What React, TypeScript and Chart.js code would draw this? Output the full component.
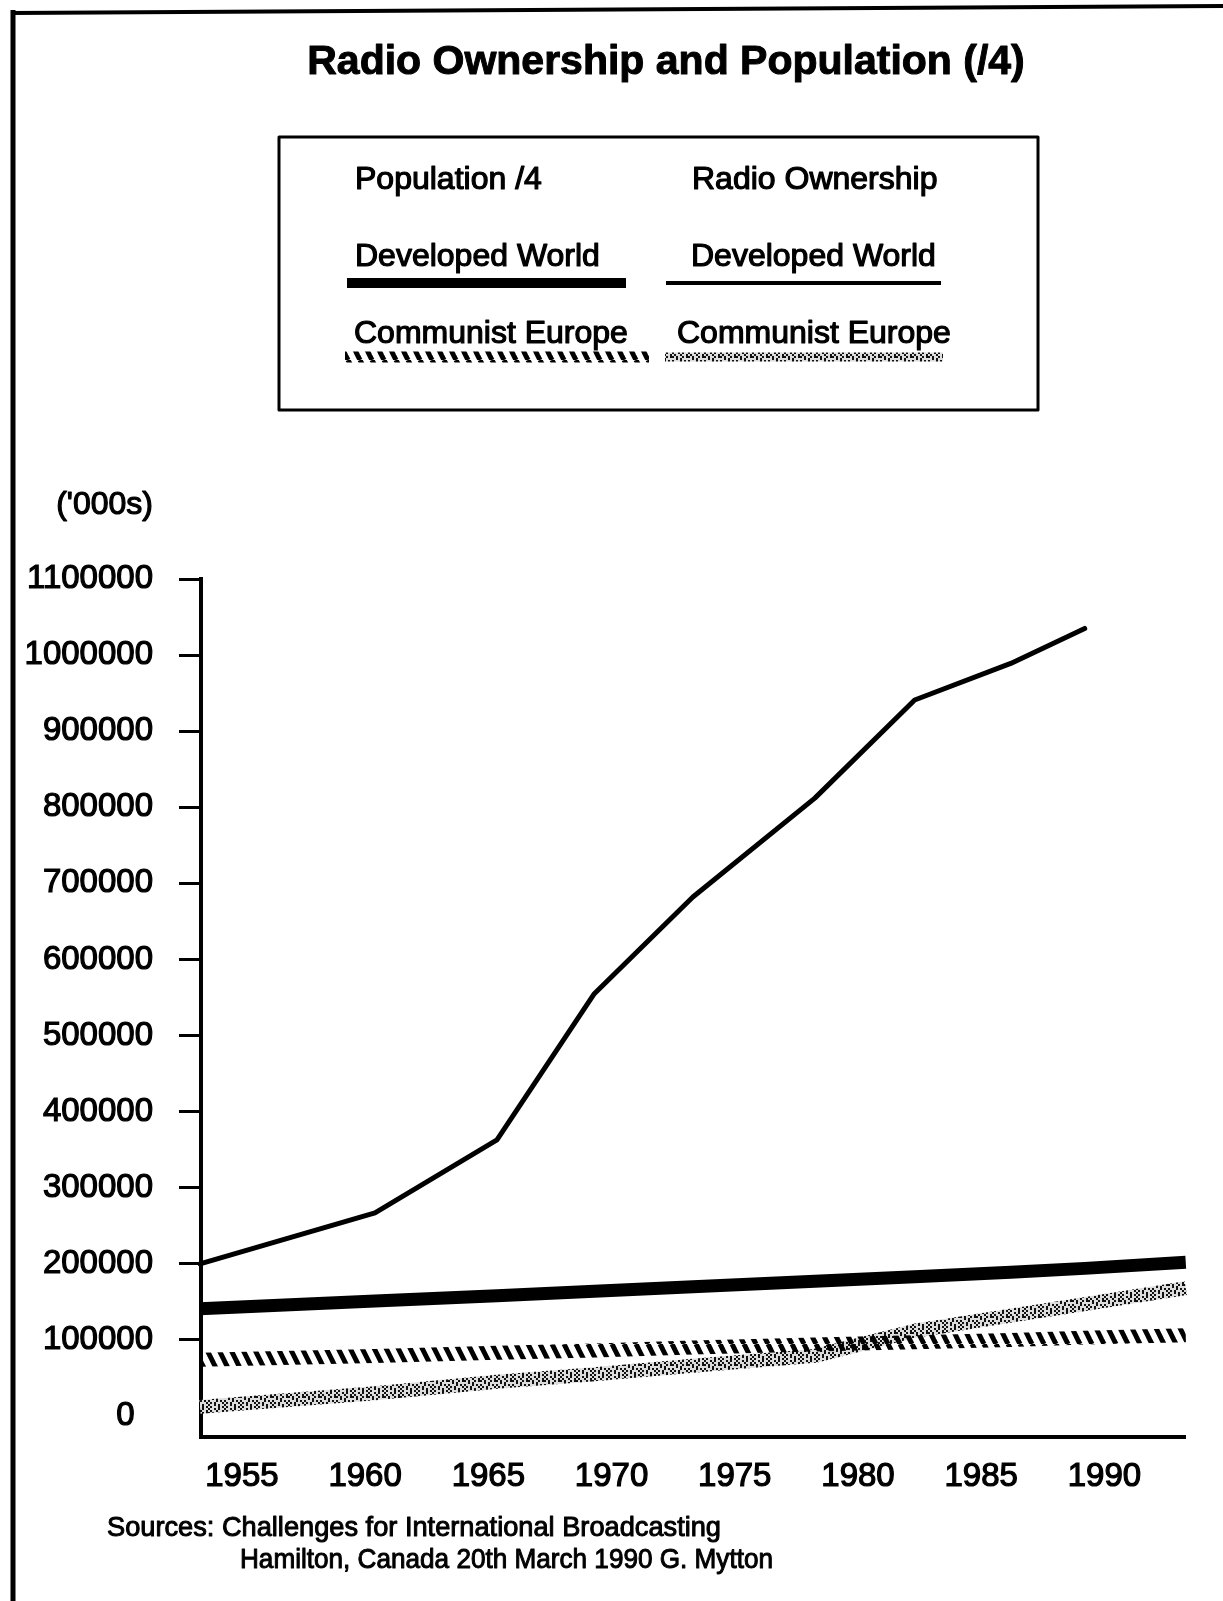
import React, { useEffect, useRef } from 'react';
import { Chart, registerables } from 'chart.js';

Chart.register(...registerables);

// ---------- data ----------
const TITLE = 'Radio Ownership and Population (/4)';
const LEGEND_HEADERS = ['Population /4', 'Radio Ownership'];
const SERIES_NAMES = ['Developed World', 'Communist Europe'];
const Y_UNIT = "('000s)";
const SOURCE_LINES = [
  'Sources: Challenges for International Broadcasting',
  'Hamilton, Canada 20th March 1990 G. Mytton',
];

const X_TICKS = [1955, 1960, 1965, 1970, 1975, 1980, 1985, 1990];
const Y_TICKS = [0, 100000, 200000, 300000, 400000, 500000, 600000, 700000, 800000, 900000, 1000000, 1100000];

const radioYears = [1953.3, 1960.4, 1965.35, 1969.3, 1973.3, 1978.25, 1982.3, 1986.2, 1989.2];
const radioDeveloped = [200000, 267000, 363000, 555000, 682000, 812000, 941000, 989000, 1035000];

const popYears = [1953.3, 1960.4, 1965.35, 1969.3, 1973.3, 1978.25, 1982.3, 1986.2, 1989.2, 1993.3];
const popDeveloped = [141000, 151000, 158000, 164000, 170000, 177000, 183000, 189000, 194000, 202000];
const popCommunist = [74000, 79000, 83000, 86000, 90000, 94000, 97000, 100000, 103000, 106000];
const radioCommunist = [12000, 30000, 45000, 55000, 66000, 79000, 112000, 132000, 147000, 168000];

// ---------- styling ----------
const FONT = '"Liberation Sans", Arial, Helvetica, sans-serif';
const W = 1223;
const H = 1601;

const STIPPLE = [
  '#..#.#..',
  '.#..#..#',
  '#.#..#.#',
  '..#.#...',
  '#...#.#.',
  '.#.#...#',
  '#..#.#..',
  '.#...#.#',
];

function makeHatch(): CanvasPattern | string {
  const c = document.createElement('canvas');
  c.width = 12;
  c.height = 24;
  const g = c.getContext('2d');
  if (!g) return '#000';
  g.strokeStyle = '#000';
  g.lineWidth = 5;
  for (const k of [-12, 0, 12]) {
    g.beginPath();
    g.moveTo(k, 0);
    g.lineTo(k + 12, 24);
    g.stroke();
  }
  const p = g.createPattern(c, 'repeat');
  return p || '#000';
}

function makeStipple(): CanvasPattern | string {
  const c = document.createElement('canvas');
  c.width = 16;
  c.height = 16;
  const g = c.getContext('2d');
  if (!g) return '#555';
  g.fillStyle = '#ddd';
  g.fillRect(0, 0, 16, 16);
  g.fillStyle = '#111';
  STIPPLE.forEach((row, r) => {
    for (let i = 0; i < row.length; i++) {
      if (row[i] === '#') g.fillRect(i * 2, r * 2, 2, 2);
    }
  });
  const p = g.createPattern(c, 'repeat');
  return p || '#555';
}

function heavyText(ctx: CanvasRenderingContext2D, text: string, x: number, y: number, sw: number) {
  ctx.lineWidth = sw;
  ctx.lineJoin = 'round';
  ctx.strokeText(text, x, y);
  ctx.fillText(text, x, y);
}

function fitText(ctx: CanvasRenderingContext2D, text: string, x: number, y: number, width: number) {
  const w = ctx.measureText(text).width;
  ctx.save();
  ctx.translate(x, y);
  ctx.scale(width / w, 1);
  heavyText(ctx, text, 0, 0, 1);
  ctx.restore();
}

export default function App() {
  const ref = useRef<HTMLCanvasElement | null>(null);

  useEffect(() => {
    const canvas = ref.current;
    if (!canvas) return;
    const hatch = makeHatch();
    const stipple = makeStipple();

    const decor = {
      id: 'decor',
      beforeDraw(chart: any) {
        const ctx = chart.ctx as CanvasRenderingContext2D;
        ctx.save();
        ctx.fillStyle = '#fff';
        ctx.fillRect(0, 0, W, H);
        ctx.restore();
      },
      afterDraw(chart: any) {
        const ctx = chart.ctx as CanvasRenderingContext2D;
        const ds = chart.data.datasets;
        ctx.save();
        ctx.fillStyle = '#000';
        ctx.strokeStyle = '#000';

        // page frame
        ctx.lineWidth = 5;
        ctx.beginPath();
        ctx.moveTo(13, 10);
        ctx.lineTo(13, H);
        ctx.stroke();
        ctx.lineWidth = 4;
        ctx.beginPath();
        ctx.moveTo(11, 13);
        ctx.lineTo(W, 6);
        ctx.stroke();

        // title
        ctx.font = `bold 41px ${FONT}`;
        ctx.textAlign = 'center';
        ctx.textBaseline = 'alphabetic';
        heavyText(ctx, TITLE, 666, 74, 1);

        // legend box
        ctx.lineWidth = 3;
        ctx.strokeRect(279, 137, 759, 273);
        ctx.font = `32px ${FONT}`;
        ctx.textAlign = 'left';
        heavyText(ctx, LEGEND_HEADERS[0], 355, 189, 1.2);
        heavyText(ctx, LEGEND_HEADERS[1], 692, 189, 1.2);
        heavyText(ctx, SERIES_NAMES[0], 355, 266, 1.2);
        heavyText(ctx, SERIES_NAMES[0], 691, 266, 1.2);
        heavyText(ctx, SERIES_NAMES[1], 354, 343, 1.2);
        heavyText(ctx, SERIES_NAMES[1], 677, 343, 1.2);

        const sample = (d: any, x0: number, x1: number, y: number, lw: number) => {
          ctx.save();
          ctx.strokeStyle = d.borderColor;
          ctx.lineWidth = lw;
          ctx.lineCap = 'butt';
          ctx.beginPath();
          ctx.moveTo(x0, y);
          ctx.lineTo(x1, y);
          ctx.stroke();
          ctx.restore();
        };
        sample(ds[1], 347, 626, 283, 10);
        sample(ds[0], 666, 941, 283, 4);
        sample(ds[2], 345, 649, 357, 11);
        sample(ds[3], 665, 943, 357, 9);

        // unit label
        ctx.font = `32px ${FONT}`;
        ctx.textAlign = 'right';
        ctx.textBaseline = 'middle';
        heavyText(ctx, Y_UNIT, 153, 505, 1.2);

        // sources
        ctx.textAlign = 'left';
        ctx.textBaseline = 'alphabetic';
        ctx.font = `28px ${FONT}`;
        fitText(ctx, SOURCE_LINES[0], 107, 1536, 614);
        fitText(ctx, SOURCE_LINES[1], 240, 1568, 533);
        ctx.restore();
      },
    };

    const chart = new Chart(canvas, {
      type: 'line',
      data: {
        datasets: [
          {
            label: 'Radio Ownership – ' + SERIES_NAMES[0],
            data: radioYears.map((x, i) => ({ x, y: radioDeveloped[i] })),
            borderColor: '#000',
            borderWidth: 5,
            borderJoinStyle: 'round',
            borderCapStyle: 'round',
            pointRadius: 0,
            tension: 0,
            clip: false,
          },
          {
            label: 'Population /4 – ' + SERIES_NAMES[0],
            data: popYears.map((x, i) => ({ x, y: popDeveloped[i] })),
            borderColor: '#000',
            borderWidth: 13,
            borderJoinStyle: 'round',
            pointRadius: 0,
            tension: 0,
            clip: false,
          },
          {
            label: 'Population /4 – ' + SERIES_NAMES[1],
            data: popYears.map((x, i) => ({ x, y: popCommunist[i] })),
            borderColor: hatch as any,
            borderWidth: 14,
            borderJoinStyle: 'round',
            pointRadius: 0,
            tension: 0,
            clip: false,
          },
          {
            label: 'Radio Ownership – ' + SERIES_NAMES[1],
            data: popYears.map((x, i) => ({ x, y: radioCommunist[i] })),
            borderColor: stipple as any,
            borderWidth: 14,
            borderJoinStyle: 'round',
            pointRadius: 0,
            tension: 0,
            clip: false,
          },
        ],
      },
      options: {
        animation: false,
        responsive: false,
        maintainAspectRatio: false,
        events: [],
        layout: { padding: { left: 0, top: 579, right: 38, bottom: 104 } },
        plugins: {
          legend: { display: false },
          title: { display: false },
          tooltip: { enabled: false },
        },
        scales: {
          x: {
            type: 'linear',
            min: 1953.34,
            max: 1993.27,
            afterBuildTicks: (s: any) => {
              s.ticks = X_TICKS.map((v) => ({ value: v }));
            },
            afterFit: (s: any) => {
              s.height = 60;
            },
            grid: { display: false, drawTicks: false },
            border: { display: true, color: '#000', width: 4 },
            ticks: {
              color: '#000',
              font: { family: FONT, size: 33 },
              textStrokeColor: '#000',
              textStrokeWidth: 1.2,
              padding: 20,
              autoSkip: false,
              maxRotation: 0,
              callback: (v: any) => String(v),
            },
          },
          y: {
            type: 'linear',
            min: -27600,
            max: 1100000,
            afterBuildTicks: (s: any) => {
              s.ticks = Y_TICKS.map((v) => ({ value: v }));
            },
            afterFit: (s: any) => {
              s.width = 201;
            },
            grid: {
              drawOnChartArea: false,
              drawTicks: true,
              tickLength: 22,
              lineWidth: 3,
              color: (c: any) => (c.tick && c.tick.value === 0 ? 'rgba(0,0,0,0)' : '#000'),
            },
            border: { display: true, color: '#000', width: 4 },
            ticks: {
              color: '#000',
              font: { family: FONT, size: 33 },
              textStrokeColor: '#000',
              textStrokeWidth: 1.2,
              padding: 26,
              autoSkip: false,
              callback: (v: any) => (v === 0 ? '0  ' : String(v)),
            },
          },
        },
      },
      plugins: [decor],
    } as any);

    return () => chart.destroy();
  }, []);

  return (
    <div style={{ position: 'absolute', left: 0, top: 0, width: W, height: H, background: '#fff' }}>
      <canvas ref={ref} width={W} height={H} style={{ display: 'block', width: W, height: H }} />
    </div>
  );
}
